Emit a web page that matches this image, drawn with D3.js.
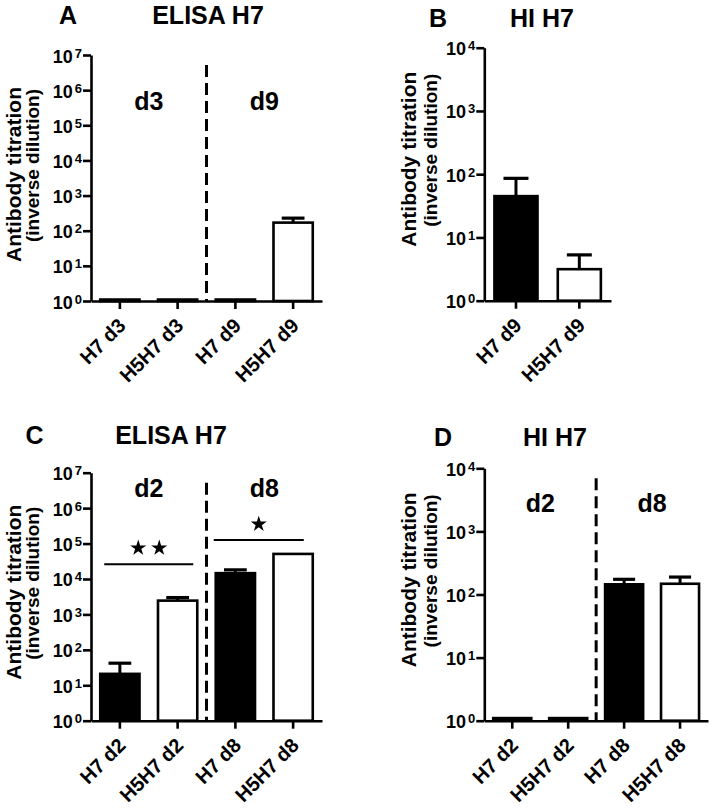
<!DOCTYPE html>
<html><head><meta charset="utf-8">
<script src="https://cdn.jsdelivr.net/npm/d3@7"></script>
<style>
html,body{margin:0;padding:0;background:#fff;}
svg{display:block;font-family:"Liberation Sans",Arial,sans-serif;font-weight:bold;}
</style></head>
<body>
<svg id="chart" width="714" height="811"></svg>
<script>
// ---------- data ----------
const catsA = ["H7 d3", "H5H7 d3", "H7 d9", "H5H7 d9"];
const meanA = [1.1, 1.1, 1.1, 170];
const upperA = [1.1, 1.1, 1.1, 228];

const catsB = ["H7 d9", "H5H7 d9"];
const meanB = [45, 3.15];
const upperB = [86, 5.3];

const catsC = ["H7 d2", "H5H7 d2", "H7 d8", "H5H7 d8"];
const meanC = [21, 2450, 14600, 51000];
const upperC = [42, 2990, 18100, 51000];

const catsD = ["H7 d2", "H5H7 d2", "H7 d8", "H5H7 d8"];
const meanD = [1.1, 1.1, 145, 148];
const upperD = [1.1, 1.1, 174, 189];

const dayLabelsA = ["d3", "d9"];
const dayLabelsC = ["d2", "d8"];
const dayLabelsD = ["d2", "d8"];

const ticks7 = [1, 10, 100, 1000, 1e4, 1e5, 1e6, 1e7];
const ticks4 = [1, 10, 100, 1000, 1e4];

// significance: bars from-to, y-value of line, y-value of stars, star count
const sigC = [
  {from: 0, to: 1, lineVal: 26200, starVal: 80000, n: 2},
  {from: 2, to: 3, lineVal: 127000, starVal: 377000, n: 1}
];

const yTitle1 = "Antibody titration";
const yTitle2 = "(inverse dilution)";

// ---------- drawing ----------
const svg = d3.select("#chart");
const FONT = "'Liberation Sans', Arial, sans-serif";

function panel(o) {
  const g = svg.append("g");
  const y = d3.scaleLog().domain(o.domain).range([o.bottom, o.top]);
  const x = d3.scaleBand().domain(o.cats).range([o.left, o.right])
    .paddingInner(0.32).paddingOuter(0.16);
  const bw = x.bandwidth();

  // bars
  o.cats.forEach((c, i) => {
    const isH7 = c.startsWith("H7");
    g.append("rect")
      .attr("x", x(c)).attr("width", bw)
      .attr("y", y(o.mean[i])).attr("height", y(o.domain[0]) - y(o.mean[i]))
      .attr("fill", isH7 ? "#000" : "#fff")
      .attr("stroke", "#000").attr("stroke-width", 2.6);
    if (o.upper[i] > o.mean[i] * 1.02) {
      const cx = x(c) + bw / 2;
      g.append("line").attr("x1", cx).attr("x2", cx)
        .attr("y1", y(o.mean[i])).attr("y2", y(o.upper[i]))
        .attr("stroke", "#000").attr("stroke-width", 3);
      g.append("line").attr("x1", cx - bw * 0.29).attr("x2", cx + bw * 0.29)
        .attr("y1", y(o.upper[i])).attr("y2", y(o.upper[i]))
        .attr("stroke", "#000").attr("stroke-width", 3.2);
    }
  });

  // y axis
  const ya = g.append("g").attr("transform", `translate(${o.left},0)`)
    .call(d3.axisLeft(y).tickValues(o.ticks).tickFormat(() => "").tickSize(8).tickSizeOuter(0));
  ya.select(".domain").attr("stroke-width", 2.6);
  ya.selectAll(".tick line").attr("stroke-width", 2.6);
  ya.selectAll(".tick").each(function(d) {
    const t = d3.select(this).append("text")
      .attr("x", -9).attr("y", 7).attr("text-anchor", "end")
      .attr("fill", "#000")
      .style("font-size", "18px").style("font-weight", "bold").style("font-family", FONT);
    t.append("tspan").text("10");
    t.append("tspan").attr("dx", 2).attr("dy", -5).style("font-size", "13px")
      .text(Math.round(Math.log10(d)));
  });

  // x axis
  const xa = g.append("g").attr("transform", `translate(0,${o.bottom})`)
    .call(d3.axisBottom(x).tickSize(8).tickSizeOuter(0).tickFormat(() => ""));
  xa.select(".domain").attr("stroke-width", 2.6);
  xa.selectAll(".tick line").attr("stroke-width", 2.6);
  xa.selectAll(".tick").append("text")
    .attr("text-anchor", "end").attr("fill", "#000")
    .style("font-size", "20px").style("font-weight", "bold").style("font-family", FONT)
    .attr("transform", "translate(7,26) rotate(-45)")
    .text(d => d);

  // dashed divider + day labels
  if (o.days) {
    const xd = o.left + (o.right - o.left) / 2;
    g.append("line").attr("x1", xd).attr("x2", xd)
      .attr("y1", o.top + 10).attr("y2", o.bottom)
      .attr("stroke", "#000").attr("stroke-width", 3)
      .attr("stroke-dasharray", "12,6");
    o.days.forEach((d, k) => {
      const cx = (x(o.cats[2 * k]) + x(o.cats[2 * k + 1]) + bw) / 2;
      g.append("text").attr("x", cx).attr("y", o.dayY)
        .attr("text-anchor", "middle").style("font-size", "25px").text(d);
    });
  }

  // y title
  const ty = o.top + o.tOff;
  g.append("text").attr("text-anchor", "end")
    .attr("transform", `translate(${o.left + o.t1},${ty}) rotate(-90)`)
    .style("font-size", "21px").text(yTitle1);
  g.append("text").attr("text-anchor", "end")
    .attr("transform", `translate(${o.left + o.t2},${ty + 2}) rotate(-90)`)
    .style("font-size", "19px").text(yTitle2);

  // titles
  g.append("text").attr("x", o.letterX).attr("y", o.titleY)
    .attr("text-anchor", "middle").style("font-size", "25px").text(o.letter);
  g.append("text").attr("x", o.titleX).attr("y", o.titleY)
    .attr("text-anchor", "middle").style("font-size", "25px").text(o.title);

  // significance
  if (o.sig) {
    o.sig.forEach(s => {
      const x1 = x(o.cats[s.from]) + (s.n === 2 ? 4 : -2);
      const x2 = x(o.cats[s.to]) + bw - (s.n === 2 ? 4 : 9);
      g.append("line").attr("x1", x1).attr("x2", x2)
        .attr("y1", y(s.lineVal)).attr("y2", y(s.lineVal))
        .attr("stroke", "#000").attr("stroke-width", 2);
      const mid = (x1 + x2) / 2;
      const gap = 21;
      for (let k = 0; k < s.n; k++) {
        const sx = mid + (k - (s.n - 1) / 2) * gap;
        g.append("path")
          .attr("transform", `translate(${sx},${y(s.starVal) + 1})`)
          .attr("d", d3.symbol(d3.symbolStar, 80)());
      }
    });
  }
}

panel({cats: catsA, mean: meanA, upper: upperA, domain: [1, 1e7], ticks: ticks7,
  left: 91, right: 322, top: 55, bottom: 301, days: dayLabelsA, dayY: 110, tOff: 32,
  t1: -70, t2: -52, letter: "A", letterX: 68, title: "ELISA H7", titleX: 208, titleY: 24});
panel({cats: catsB, mean: meanB, upper: upperB, domain: [1, 1e4], ticks: ticks4,
  left: 484.3, right: 611, top: 47.7, bottom: 300.7, tOff: 24,
  t1: -68, t2: -47, letter: "B", letterX: 438, title: "HI H7", titleX: 542, titleY: 27});
panel({cats: catsC, mean: meanC, upper: upperC, domain: [1, 1e7], ticks: ticks7,
  left: 91, right: 322, top: 472.7, bottom: 720.7, days: dayLabelsC, dayY: 497, sig: sigC, tOff: 32,
  t1: -70, t2: -52, letter: "C", letterX: 34.5, title: "ELISA H7", titleX: 171, titleY: 444});
panel({cats: catsD, mean: meanD, upper: upperD, domain: [1, 1e4], ticks: ticks4,
  left: 484.3, right: 708, top: 468.3, bottom: 720.7, days: dayLabelsD, dayY: 512, tOff: 24,
  t1: -68, t2: -47, letter: "D", letterX: 443, title: "HI H7", titleX: 555, titleY: 446});
</script>
</body></html>
